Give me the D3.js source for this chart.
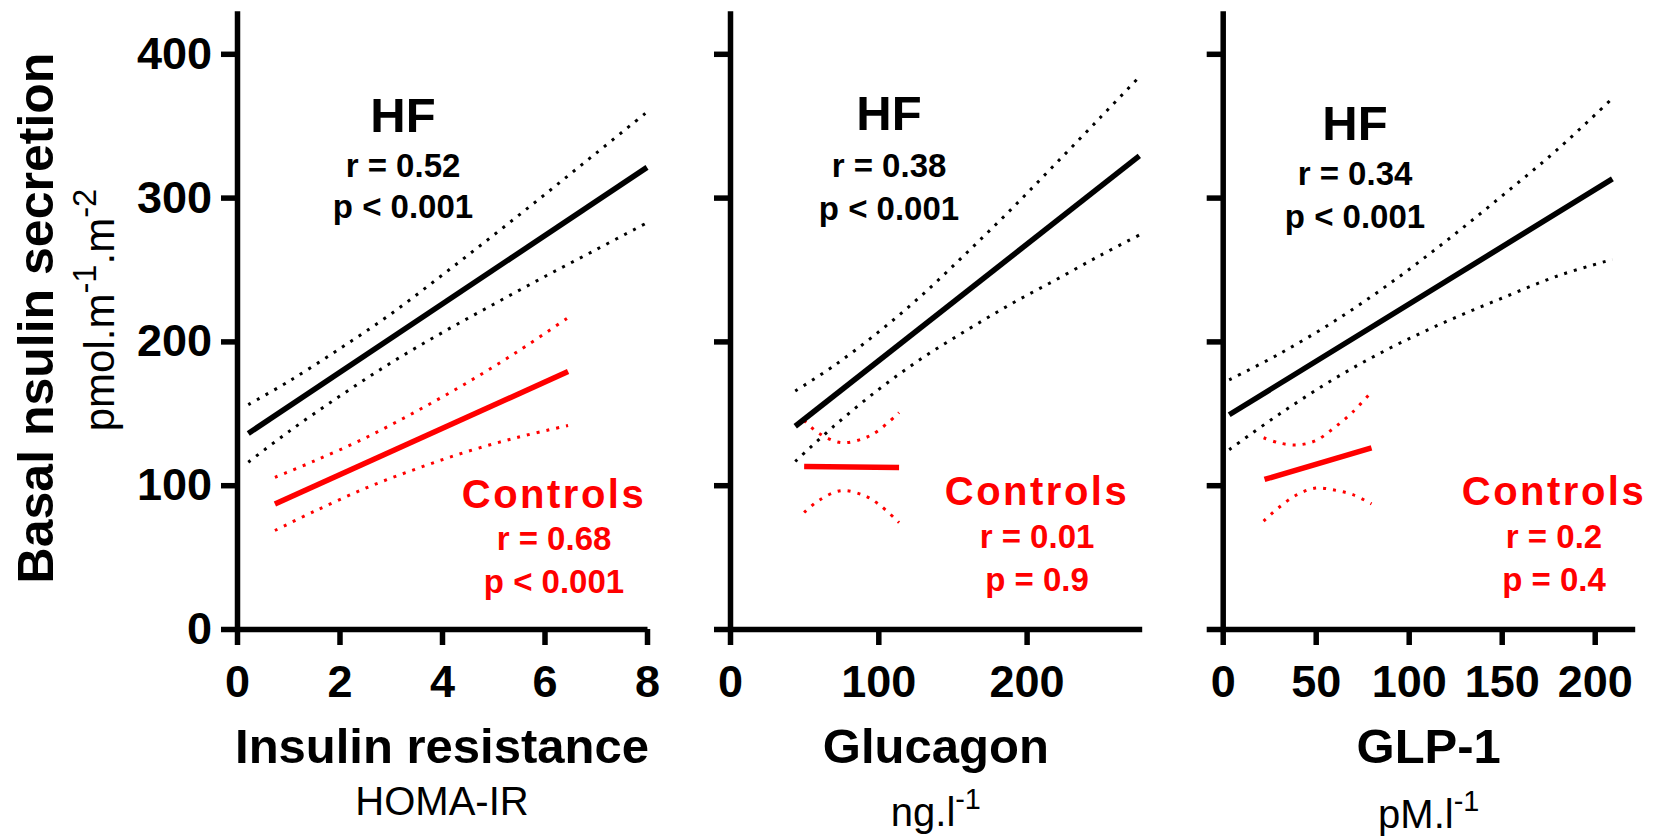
<!DOCTYPE html>
<html>
<head>
<meta charset="utf-8">
<script src="https://cdn.jsdelivr.net/npm/d3@7"></script>
<style>
  html, body { margin: 0; padding: 0; background: #fff; }
  svg { display: block; }
  text { font-family: "Liberation Sans", Arial, sans-serif; }
</style>
</head>
<body>
<svg id="chart" width="1657" height="836"></svg>
<script>
// ---- values ----
const yTicks = [0, 100, 200, 300, 400];
const yMax = 430;

const irTicks = [0, 2, 4, 6, 8];
const glucagonTicks = [0, 100, 200];
const glpTicks = [0, 50, 100, 150, 200];

const irMax = 8;
const glucagonMax = 277.6;
const glpMax = 221.5;

// Insulin resistance (HOMA-IR)
const irHF = [[0.22, 136], [8, 321]];
const irHFUpper = [[0.22, 156], [1, 172], [2, 194.8], [3, 219], [4, 246], [5, 273.7], [6, 302], [7, 330.7], [8, 359.5]];
const irHFLower = [[0.22, 116], [1, 137], [2, 161.8], [3, 185], [4, 206], [5, 225.7], [6, 245], [7, 263.7], [8, 282.5]];
const irCtrl = [[0.74, 87], [6.46, 179]];
const irCtrlUpper = [[0.74, 105.5], [1.5, 116.7], [2.5, 132.8], [3.5, 151.4], [4.5, 171.5], [5.5, 193.5], [6.46, 216.5]];
const irCtrlLower = [[0.74, 68.5], [1.5, 81.7], [2.5, 97.8], [3.5, 111.4], [4.5, 123.5], [5.5, 133.5], [6.46, 141.5]];

// Glucagon
const glucagonHF = [[44, 141], [276, 329]];
const glucagonHFUpper = [[44, 165.5], [70, 183], [100, 206.4], [130, 232.7], [160, 262], [190, 292.3], [220, 324], [250, 356], [276, 384]];
const glucagonHFLower = [[44, 116.5], [70, 141], [100, 166.4], [130, 188.7], [160, 208], [190, 226.3], [220, 243], [250, 260], [276, 274]];
const glucagonCtrl = [[50, 113], [114, 112.3]];
const glucagonCtrlUpper = [[50, 145], [60, 136], [75, 129.6], [90, 132.5], [100, 138], [114, 150.5]];
const glucagonCtrlLower = [[50, 81], [60, 89.5], [75, 96.2], [90, 93], [100, 87], [114, 74]];

// GLP-1
const glpHF = [[3.5, 149], [209.5, 313]];
const glpHFUpper = [[3.5, 173.3], [30, 191], [60, 214], [90, 240.4], [120, 269.7], [150, 301], [180, 333.5], [209.5, 369]];
const glpHFLower = [[3.5, 124.7], [30, 149], [60, 174], [90, 195.4], [120, 213.7], [150, 230], [180, 245.5], [209.5, 257]];
const glpCtrl = [[22.5, 104], [80, 126]];
const glpCtrlUpper = [[22, 133], [30, 129.5], [40, 128], [50, 131], [60, 140], [70, 151], [80, 165]];
const glpCtrlLower = [[22, 75], [30, 84.3], [40, 93.4], [50, 98], [60, 96.6], [70, 93.4], [80, 87]];

// correlation annotations
const hfStats = [["r = 0.52", "p < 0.001"], ["r = 0.38", "p < 0.001"], ["r = 0.34", "p < 0.001"]];
const ctrlStats = [["r = 0.68", "p < 0.001"], ["r = 0.01", "p = 0.9"], ["r = 0.2", "p = 0.4"]];

const xTitles = ["Insulin resistance", "Glucagon", "GLP-1"];
// unit strings: [base, superscript, base, superscript ...]
const xUnits = [["HOMA-IR"], ["ng.l", "-1"], ["pM.l", "-1"]];
const yTitle = "Basal nsulin secretion";
const yUnit = ["pmol.m", "-1", ".m", "-2"];

// ---- layout ----
const RED = "#ff0000";
const svg = d3.select("#chart");
const y0 = 629;
const yPxPerUnit = 1.438;
const y = d3.scaleLinear().domain([0, yMax]).range([y0, y0 - yMax * yPxPerUnit]);

const panels = [
  { ticks: irTicks, max: irMax, left: 237, right: 647, labels: true,
    hf: irHF, hfU: irHFUpper, hfL: irHFLower, c: irCtrl, cU: irCtrlUpper, cL: irCtrlLower,
    hfPos: [403, 131.7, 176.7, 218.3], cPos: [554, 508, 550, 593], unitBase: 815 },
  { ticks: glucagonTicks, max: glucagonMax, left: 730, right: 1141.7, labels: false,
    hf: glucagonHF, hfU: glucagonHFUpper, hfL: glucagonHFLower, c: glucagonCtrl, cU: glucagonCtrlUpper, cL: glucagonCtrlLower,
    hfPos: [889, 130, 176.7, 220], cPos: [1037, 505, 548, 591], unitBase: 826 },
  { ticks: glpTicks, max: glpMax, left: 1222.7, right: 1634.7, labels: false,
    hf: glpHF, hfU: glpHFUpper, hfL: glpHFLower, c: glpCtrl, cU: glpCtrlUpper, cL: glpCtrlLower,
    hfPos: [1355, 140, 185, 228], cPos: [1554, 505, 548, 591], unitBase: 828 }
];

function writeRich(sel, parts, size, supScale) {
  parts.forEach((p, i) => {
    const sup = i % 2 === 1;
    const t = sel.append("tspan").text(p);
    if (sup) t.attr("font-size", size * supScale).attr("dy", -size * 0.42);
    else if (i > 0) t.attr("dy", size * 0.42);
  });
}

panels.forEach((p, i) => {
  const x = d3.scaleLinear().domain([0, p.max]).range([p.left, p.right]);
  const g = svg.append("g");

  // axes
  const xAxis = d3.axisBottom(x).tickValues(p.ticks).tickSize(16).tickSizeOuter(0).tickPadding(20);
  const yAxis = d3.axisLeft(y).tickValues(yTicks).tickSize(16).tickSizeOuter(0).tickPadding(9);
  if (!p.labels) yAxis.tickFormat("");

  const gx = g.append("g").attr("transform", `translate(0,${y0})`).call(xAxis);
  const gy = g.append("g").attr("transform", `translate(${p.left},0)`).call(yAxis);
  [gx, gy].forEach(a => {
    a.select(".domain").attr("stroke", "#000").attr("stroke-width", 5.5);
    a.selectAll(".tick line").attr("stroke", "#000").attr("stroke-width", 5.5);
    a.selectAll(".tick text").attr("fill", "#000").attr("font-size", 45).attr("font-weight", "bold")
      .attr("font-family", '"Liberation Sans", Arial, sans-serif');
  });

  // regression lines and confidence bands
  const line = d3.line().x(d => x(d[0])).y(d => y(d[1]));
  const band = d3.line().x(d => x(d[0])).y(d => y(d[1])).curve(d3.curveCatmullRom);
  const dotted = (data, color) => g.append("path").datum(data).attr("d", band)
    .attr("fill", "none").attr("stroke", color).attr("stroke-width", 3).attr("stroke-dasharray", "3 7");
  dotted(p.hfU, "#000");
  dotted(p.hfL, "#000");
  dotted(p.cU, RED);
  dotted(p.cL, RED);
  g.append("path").datum(p.hf).attr("d", line).attr("fill", "none").attr("stroke", "#000").attr("stroke-width", 5.5);
  g.append("path").datum(p.c).attr("d", line).attr("fill", "none").attr("stroke", RED).attr("stroke-width", 5.5);

  // annotations
  const ann = (txt, xx, yy, size, color, extra) => {
    const t = g.append("text").attr("x", xx).attr("y", yy).attr("text-anchor", "middle")
      .attr("font-size", size).attr("font-weight", "bold").attr("fill", color).text(txt);
    if (extra) t.attr("letter-spacing", extra);
    return t;
  };
  ann("HF", p.hfPos[0], p.hfPos[1], 49, "#000");
  ann(hfStats[i][0], p.hfPos[0], p.hfPos[2], 33, "#000");
  ann(hfStats[i][1], p.hfPos[0], p.hfPos[3], 33, "#000");
  ann("Controls", p.cPos[0], p.cPos[1], 40, RED, 2.5);
  ann(ctrlStats[i][0], p.cPos[0], p.cPos[2], 33, RED);
  ann(ctrlStats[i][1], p.cPos[0], p.cPos[3], 33, RED);

  // axis titles
  const cx = (p.left + p.right) / 2;
  g.append("text").attr("x", cx).attr("y", 763).attr("text-anchor", "middle")
    .attr("font-size", 49).attr("font-weight", "bold").attr("fill", "#000").text(xTitles[i]);
  const u = g.append("text").attr("x", cx).attr("y", p.unitBase).attr("text-anchor", "middle")
    .attr("font-size", 40).attr("fill", "#000");
  writeRich(u, xUnits[i], 40, 0.72);
});

// y-axis title and unit
svg.append("text").attr("transform", "translate(53,318) rotate(-90)").attr("text-anchor", "middle")
  .attr("font-size", 50).attr("font-weight", "bold").attr("fill", "#000").text(yTitle);
const yu = svg.append("text").attr("transform", "translate(114,310) rotate(-90)").attr("text-anchor", "middle")
  .attr("font-size", 42).attr("fill", "#000");
writeRich(yu, yUnit, 42, 0.78);
</script>
</body>
</html>
